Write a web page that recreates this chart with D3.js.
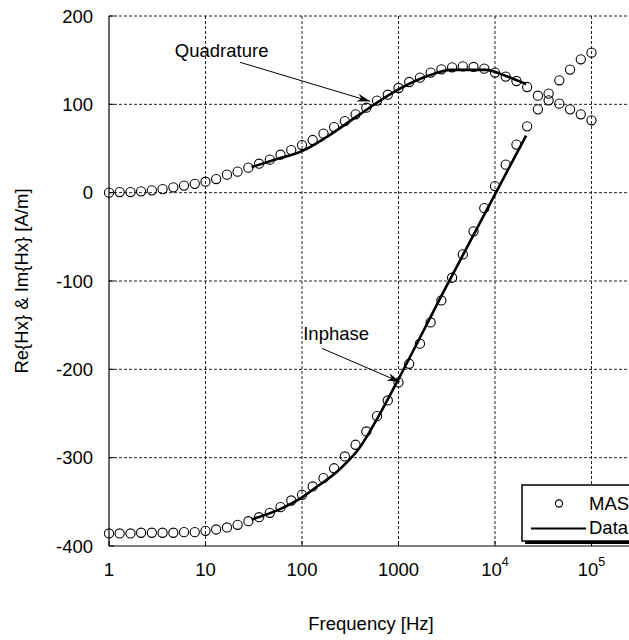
<!DOCTYPE html>
<html>
<head>
<meta charset="utf-8">
<script src="https://cdn.jsdelivr.net/npm/d3@7"></script>
<style>
  html, body { margin: 0; padding: 0; background: #fff; }
  svg { display: block; }
  text { font-family: "Liberation Sans", Arial, sans-serif; fill: #000; }
</style>
</head>
<body>
<svg id="chart" width="629" height="640"></svg>
<script>
// ---- data ----
const freqs = [1, 1.29, 1.67, 2.15, 2.78, 3.59, 4.64, 5.99, 7.74, 10,
  12.9, 16.7, 21.5, 27.8, 35.9, 46.4, 59.9, 77.4, 100,
  129, 167, 215, 278, 359, 464, 599, 774, 1000,
  1292, 1668, 2154, 2783, 3594, 4642, 5995, 7743, 10000,
  12915, 16681, 21544, 27826, 35938, 46416, 59948, 77426, 100000];
const masQuadrature = [0, 0.7, 0.7, 1.5, 2.6, 4, 6, 8, 10, 12.4,
  15.4, 20.4, 23.8, 28.3, 32.8, 37.4, 43, 48.2, 53.9,
  59.6, 66.8, 74.3, 81.1, 88.7, 96.2, 104.2, 110.9, 118.5,
  125.3, 130.2, 135.9, 139.6, 141.9, 143, 142.3, 140.4, 135.9,
  131.4, 126.4, 119.6, 109.8, 104.5, 100.8, 94.3, 88.7, 81.9];
const masInphase = [-385.8, -385.8, -385.8, -385, -385, -385, -385, -384.3, -384.3, -382.8,
  -381.3, -379, -376, -371.9, -367.4, -362.4, -356, -348.5, -342,
  -332.6, -323.2, -312, -298.6, -285.4, -270.3, -253, -235.2, -214.8,
  -193.7, -171, -146.9, -122, -96.3, -69.9, -43.8, -17.5, 7.5,
  31.7, 54.4, 75.1, 94.3, 112.1, 127.2, 139.3, 151, 158.5];

const dataQuadFreq = [30, 55, 100, 180, 400, 1000, 2000, 3500, 8000, 13000, 21000];
const dataQuadVal  = [29, 38, 47, 63, 89, 117, 132, 139, 139, 132, 123];
const dataInFreq = [30, 60, 100, 130, 230, 400, 600, 1000, 3000, 10000, 21000];
const dataInVal  = [-370, -358, -345, -336, -316, -288, -256, -211, -110, -2, 64.6];

const xTickVals = [1, 10, 100, 1000, 1e4, 1e5];
const xTickLabels = ["1", "10", "100", "1000", "10^4", "10^5"];
const yTickVals = [-400, -300, -200, -100, 0, 100, 200];

const annotations = [
  {text: "Quadrature", tf: 14.7, tv: 153.5, anchor: "middle", f0: 22.8, v0: 147.6, f1: 507, v1: 103.4},
  {text: "Inphase", tf: 103, tv: -166.5, anchor: "start", f0: 161, v0: -176.3, f1: 1036, v1: -214.3}
];

// ---- layout ----
const W = 629, H = 640;
const mLeft = 109, mTop = 16, mBottom = 546;
const FS = 18.5;

const x = d3.scaleLog().domain([1, 1e5]).range([mLeft, 591.5]);
const y = d3.scaleLinear().domain([-400, 200]).range([mBottom, mTop]);

const svg = d3.select("#chart");

svg.append("defs").append("marker")
  .attr("id", "arrow").attr("viewBox", "0 0 14 10")
  .attr("refX", 13).attr("refY", 5)
  .attr("markerWidth", 14).attr("markerHeight", 10)
  .attr("markerUnits", "userSpaceOnUse")
  .attr("orient", "auto")
  .append("path").attr("d", "M0,1 L13,5 L0,9 L4,5 Z").attr("fill", "#000");

// grid
const grid = svg.append("g");
grid.selectAll("line.v").data(xTickVals.slice(1)).enter().append("line")
  .attr("x1", d => x(d)).attr("x2", d => x(d))
  .attr("y1", mTop).attr("y2", mBottom)
  .attr("stroke", "#222").attr("stroke-width", 1).attr("stroke-dasharray", "3,2");
grid.selectAll("line.h").data(yTickVals.slice(1)).enter().append("line")
  .attr("x1", mLeft).attr("x2", W)
  .attr("y1", d => y(d)).attr("y2", d => y(d))
  .attr("stroke", "#222").attr("stroke-width", 1).attr("stroke-dasharray", "3,2");

// axes lines
svg.append("line").attr("x1", mLeft).attr("x2", mLeft).attr("y1", mTop).attr("y2", mBottom)
  .attr("stroke", "#000").attr("stroke-width", 1.2);
svg.append("line").attr("x1", mLeft).attr("x2", W).attr("y1", mBottom).attr("y2", mBottom)
  .attr("stroke", "#000").attr("stroke-width", 1.2);

// inner ticks
svg.selectAll("line.xt").data(xTickVals).enter().append("line")
  .attr("x1", d => x(d)).attr("x2", d => x(d)).attr("y1", mBottom).attr("y2", mBottom - 5)
  .attr("stroke", "#000");
svg.selectAll("line.yt").data(yTickVals).enter().append("line")
  .attr("x1", mLeft).attr("x2", mLeft + 5).attr("y1", d => y(d)).attr("y2", d => y(d))
  .attr("stroke", "#000");

// y tick labels
svg.selectAll("text.yl").data(yTickVals).enter().append("text")
  .attr("x", 93).attr("y", d => y(d)).attr("dy", "0.36em")
  .attr("text-anchor", "end").attr("font-size", FS)
  .text(d => d);

// x tick labels
xTickLabels.forEach((lab, i) => {
  const t = svg.append("text").attr("x", x(xTickVals[i])).attr("y", 575.5)
    .attr("text-anchor", "middle").attr("font-size", FS);
  if (lab.indexOf("^") >= 0) {
    const [b, e] = lab.split("^");
    t.append("tspan").text(b);
    t.append("tspan").attr("dy", -10).attr("font-size", 12.5).text(e);
  } else {
    t.text(lab);
  }
});

// axis titles
svg.append("text").attr("x", 371).attr("y", 630).attr("text-anchor", "middle")
  .attr("font-size", FS).text("Frequency [Hz]");
svg.append("text").attr("transform", `translate(28,${(mTop + mBottom) / 2}) rotate(-90)`)
  .attr("text-anchor", "middle").attr("font-size", FS).text("Re{Hx} & Im{Hx} [A/m]");

// MAS circles
const pts = svg.append("g");
[masQuadrature, masInphase].forEach(series => {
  pts.selectAll(null).data(series).enter().append("circle")
    .attr("cx", (d, i) => x(freqs[i])).attr("cy", d => y(d)).attr("r", 4.6)
    .attr("fill", "none").attr("stroke", "#000").attr("stroke-width", 1.1);
});

// data lines
const line = d3.line().curve(d3.curveMonotoneX);
[[dataQuadFreq, dataQuadVal], [dataInFreq, dataInVal]].forEach(([fs, vs]) => {
  svg.append("path")
    .attr("d", line(fs.map((f, i) => [x(f), y(vs[i])])))
    .attr("fill", "none").attr("stroke", "#000").attr("stroke-width", 2.6);
});

// annotations
annotations.forEach(a => {
  svg.append("text").attr("x", x(a.tf)).attr("y", y(a.tv))
    .attr("text-anchor", a.anchor).attr("font-size", FS).text(a.text);
  svg.append("line").attr("x1", x(a.f0)).attr("y1", y(a.v0))
    .attr("x2", x(a.f1)).attr("y2", y(a.v1))
    .attr("stroke", "#000").attr("stroke-width", 1)
    .attr("marker-end", "url(#arrow)");
});

// legend
const lg = svg.append("g");
lg.append("rect").attr("x", 525).attr("y", 488).attr("width", 130).attr("height", 56).attr("fill", "#000");
lg.append("rect").attr("x", 522).attr("y", 485).attr("width", 130).attr("height", 56)
  .attr("fill", "#fff").attr("stroke", "#000").attr("stroke-width", 1.5);
lg.append("circle").attr("cx", 559).attr("cy", 503.5).attr("r", 3.6)
  .attr("fill", "none").attr("stroke", "#000").attr("stroke-width", 1.1);
lg.append("line").attr("x1", 531).attr("x2", 586).attr("y1", 528.5).attr("y2", 528.5)
  .attr("stroke", "#000").attr("stroke-width", 2.2);
lg.append("text").attr("x", 589).attr("y", 509.5).attr("font-size", FS).text("MAS");
lg.append("text").attr("x", 589).attr("y", 534).attr("font-size", FS).text("Data");
</script>
</body>
</html>
